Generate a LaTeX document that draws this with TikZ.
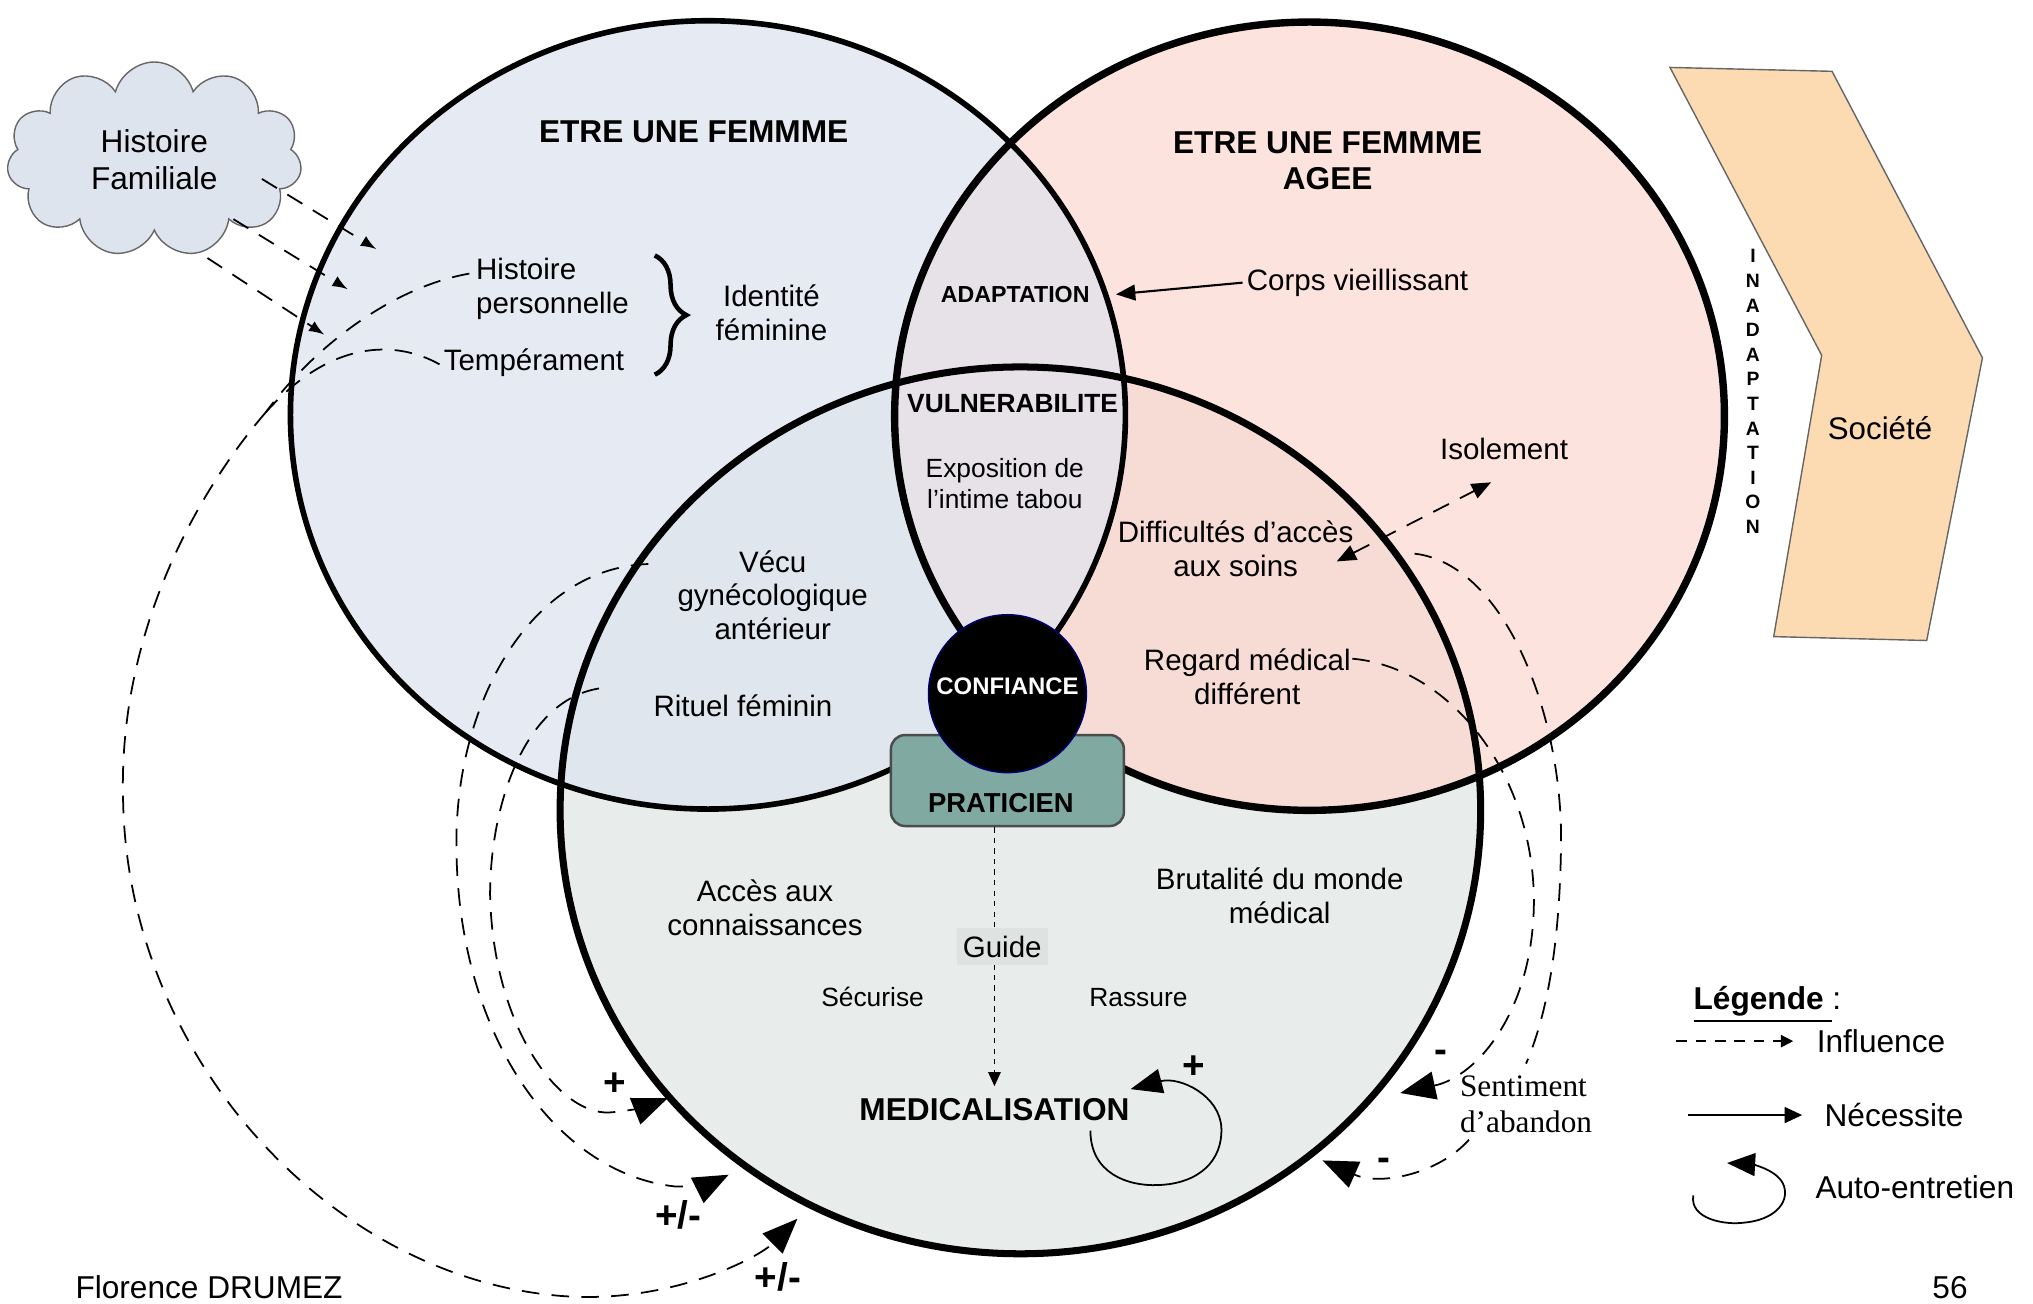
\documentclass[tikz,border=0pt]{standalone}
\usepackage{fontspec}
\setmainfont{Liberation Sans}
\newfontfamily\timesfont{Liberation Serif}
\usepackage{xcolor}
\usetikzlibrary{arrows}
\usetikzlibrary{arrows.meta}
\usetikzlibrary{shapes.symbols}
\usetikzlibrary{decorations.pathreplacing, math}
\definecolor{femcol}{HTML}{E6EBF3}
\definecolor{agecol}{HTML}{FDE3DE}
\definecolor{medcol}{HTML}{E8EDEB}
\definecolor{lenscol}{HTML}{E6E2E8}
\definecolor{femmedcol}{HTML}{DFE6EE}
\definecolor{agemedcol}{HTML}{F6DCD5}
\definecolor{nuagecol}{HTML}{DDE4EE}
\definecolor{pratcol}{HTML}{7FA9A1}
\definecolor{soccol}{HTML}{FCDBB3}
\definecolor{guidecol}{HTML}{DEE3E1}
\tikzset{
  txt/.style={font=\fontsize{8.4}{9.6}\selectfont, align=center, inner sep=1pt},
  petit/.style={font=\fontsize{7.5}{8.9}\selectfont, align=center, inner sep=1pt},
  titre/.style={font=\bfseries\fontsize{9}{10}\selectfont, align=center, inner sep=1pt},
  signe/.style={font=\bfseries\fontsize{11}{12}\selectfont, inner sep=0pt},
  legtxt/.style={font=\fontsize{9}{11}\selectfont, inner sep=1pt},
  infl/.style={line width=0.5pt, dash pattern=on 5pt off 3.5pt},
  gros/.style={-{Triangle[length=10pt,width=8pt]}},
}
\begin{document}
\begin{tikzpicture}[x=0.012966cm, y=-0.012966cm]
\tikzmath{
\femx=546; \femy=320; \femrx=322; \femry=304;
\agex=1010; \agey=321; \agerx=320; \agery=304;
\medx=787; \medy=625; \medrx=355; \medry=342;
}
\useasboundingbox (0,0) rectangle (1568,1005);

%circles
\fill[medcol] (\medx,\medy) ellipse [x radius=\medrx, y radius=\medry];
\fill[femcol] (\femx,\femy) ellipse [x radius=\femrx, y radius=\femry];
\fill[agecol] (\agex,\agey) ellipse [x radius=\agerx, y radius=\agery];
\begin{scope}
\clip (\medx,\medy) ellipse [x radius=\medrx, y radius=\medry];
\fill[femmedcol] (\femx,\femy) ellipse [x radius=\femrx, y radius=\femry];
\fill[agemedcol] (\agex,\agey) ellipse [x radius=\agerx, y radius=\agery];
\end{scope}
\begin{scope}
\clip (\femx,\femy) ellipse [x radius=\femrx, y radius=\femry];
\fill[lenscol] (\agex,\agey) ellipse [x radius=\agerx, y radius=\agery];
\end{scope}
\draw[line width=1.6pt] (\femx,\femy) ellipse [x radius=\femrx, y radius=\femry];
\draw[line width=2.1pt] (\agex,\agey) ellipse [x radius=\agerx, y radius=\agery];
\draw[line width=2pt] (\medx,\medy) ellipse [x radius=\medrx, y radius=\medry];

%societe
\draw[fill=soccol, draw=black!60, line width=0.4pt] (1288,52) -- (1413,55) -- (1529,276) -- (1486,494) -- (1368,491) -- (1405,274) -- cycle;
\node[font=\fontsize{8.9}{10}\selectfont] (societe) at (1450,330) {Société};
\node[font=\bfseries\fontsize{5.5}{7}\selectfont, align=center] (inadapt) at (1352,302) {I\\N\\A\\D\\A\\P\\T\\A\\T\\I\\O\\N};

%cloud
\node[cloud, cloud puffs=11, aspect=1.6, draw=black!60, line width=0.4pt, fill=nuagecol, minimum width=2.95cm, minimum height=1.95cm, font=\fontsize{9}{10.4}\selectfont, align=center] (histfam) at (119,123) {Histoire\\Familiale};

%praticien
\node[draw=black!70, line width=0.7pt, fill=pratcol, rounded corners=4pt, minimum width=2.33cm, minimum height=0.91cm] (prat) at (777,602) {};
\node[font=\bfseries\fontsize{7.8}{9}\selectfont] (pratlbl) at (772,619) {PRATICIEN};
\node[circle, fill=black, draw=blue!45!black, minimum size=1.58cm, inner sep=0pt, text=white, text height=5pt, text depth=4.4pt, font=\bfseries\fontsize{6.8}{8}\selectfont] (confiance) at (777,535) {CONFIANCE};

%texts
\node[titre] (femme) at (535,102) {ETRE UNE FEMMME};
\node[titre] (agee) at (1024,124) {ETRE UNE FEMMME\\AGEE};
\node[txt, align=left, anchor=west] (histpers) at (364,223) {Histoire\\personnelle};
\node[txt, anchor=west] (temper) at (339,280) {Tempérament};
\draw[line width=1.3pt, decorate, decoration={brace, amplitude=9pt}] (505,197) -- (505,289);
\node[txt] (identite) at (595,241) {Identité\\féminine};
\node[font=\bfseries\fontsize{6.6}{8}\selectfont] (adapt) at (783,227) {ADAPTATION};
\node[font=\bfseries\fontsize{7.5}{9}\selectfont] (vulner) at (781,311) {VULNERABILITE};
\node[txt] (corps) at (1047,218) {Corps vieillissant};
\node[txt] (isol) at (1160,346) {Isolement};
\node[txt] (diffic) at (953,423) {Difficultés d’accès\\aux soins};
\node[petit] (expo) at (775,373) {Exposition de\\l’intime tabou};
\node[txt] (vecu) at (596,459) {Vécu\\gynécologique\\antérieur};
\node[txt] (rituel) at (573,544) {Rituel féminin};
\node[txt] (regard) at (962,522) {Regard médical\\différent};
\node[txt] (acces) at (590,700) {Accès aux\\connaissances};
\node[txt] (brutal) at (987,691) {Brutalité du monde\\médical};
\node[petit] (securise) at (673,769) {Sécurise};
\node[petit] (rassure) at (878,769) {Rassure};
\node[font=\bfseries\fontsize{9}{10}\selectfont] (medic) at (767,856) {MEDICALISATION};
\node[font=\timesfont\fontsize{8.9}{10.3}\selectfont, align=left] (sentiment) at (1177,852) {Sentiment\\d’abandon};

%necessite
\draw[line width=0.6pt, -{Triangle[length=5.5pt,width=4.5pt]}] (corps.west) -- ([xshift=4]adapt.east);
\coordinate (isolpt) at (1150,372);
\coordinate (difpt) at (1031,433);
\draw[infl, {Triangle[length=5.5pt,width=4.5pt]}-{Triangle[length=5.5pt,width=4.5pt]}] (difpt) -- (isolpt);
\draw[line width=0.5pt, dash pattern=on 1.5pt off 1.5pt, -{Triangle[length=4pt,width=3.5pt]}] (prat.south -| medic.north) -- (medic.north);
\node[txt, fill=guidecol, minimum width=0.91cm, minimum height=0.376cm] (guide) at (773,730) {Guide};

%cloud arrows
\coordinate (hf1) at (202,138); \coordinate (cf1) at (290,192);
\coordinate (hf2) at (180,169); \coordinate (cf2) at (268,223);
\coordinate (hf3) at (160,199); \coordinate (cf3) at (250,258);
\draw[infl, -latex] (hf1) -- (cf1);
\draw[infl, -latex] (hf2) -- (cf2);
\draw[infl, -latex] (hf3) -- (cf3);

%influences left
\coordinate (h0) at (362,211);
\coordinate (t0) at (339,281);
\coordinate (merge) at (205,318);
\coordinate (bigtip) at (615,940);
\draw[infl] (h0) .. controls (300,222) and (240,270) .. (merge);
\draw[infl] (t0) .. controls (305,262) and (255,262) .. (merge);
\draw[infl, gros] (merge) .. controls (160,370) and (90,480) .. (95,620) .. controls (100,820) and (260,990) .. (440,1000) .. controls (520,1004) and (585,970) .. (bigtip);
\coordinate (v0) at (500,435);
\coordinate (vtip) at (562,906);
\draw[infl, gros] (v0) .. controls (410,438) and (352,540) .. (352,650) .. controls (352,800) and (430,905) .. (520,915) .. controls (535,916) and (550,912) .. (vtip);
\coordinate (r0) at (462,531);
\coordinate (rtip) at (515,847);
\draw[infl, gros] (r0) .. controls (405,540) and (378,620) .. (378,690) .. controls (380,790) and (430,860) .. (470,858) .. controls (485,857) and (500,853) .. (rtip);
\node[signe] (plus1) at (474,836) {+};
\node[signe] (pm1) at (523,937) {+/-};
\node[signe] (pm2) at (600,985) {+/-};

%influences right
\coordinate (g0) at (1043,508);
\coordinate (gtip) at (1080,843);
\draw[infl, gros] (g0) .. controls (1120,515) and (1185,600) .. (1183,700) .. controls (1181,780) and (1140,830) .. (gtip);
\coordinate (s0) at (1091,427);
\draw[infl] (s0) .. controls (1160,435) and (1205,550) .. (1204,650) .. controls (1203,740) and (1190,790) .. (sentiment.north);
\coordinate (a0) at (1133,879);
\coordinate (atip) at (1020,895);
\draw[infl, gros] (a0) .. controls (1110,905) and (1065,915) .. (atip);
\node[signe] (moins1) at (1111,815) {-};
\node[signe] (moins2) at (1067,898) {-};

%auto-entretien
\coordinate (lp0) at (841,872);
\coordinate (lptip) at (872,840);
\draw[line width=0.5pt, -{Triangle[length=9pt,width=7pt]}] (lp0) .. controls (841,905) and (870,915) .. (893,914) .. controls (925,913) and (943,895) .. (942,870) .. controls (941,845) and (910,830) .. (lptip);
\node[signe] (plus2) at (921,823) {+};

%legende
\node[legtxt, anchor=west] (legende) at (1303,775) {\underline{\textbf{Légende }}:};
\coordinate (li0) at (1293,803); \coordinate (li1) at (1383,803);
\draw[line width=0.5pt, dash pattern=on 3pt off 2.5pt, -{Triangle[length=3.5pt,width=3.5pt]}] (li0) -- (li1);
\node[legtxt, anchor=west] (influence) at (1398,803) {Influence};
\coordinate (ln0) at (1302,860); \coordinate (ln1) at (1390,860);
\draw[line width=0.6pt, -{Triangle[length=5pt,width=4.5pt]}] (ln0) -- (ln1);
\node[legtxt, anchor=west] (necessite) at (1404,860) {Nécessite};
\coordinate (la0) at (1306,922); \coordinate (la1) at (1332,897);
\draw[line width=0.5pt, -{Triangle[length=8pt,width=6.5pt]}] (la0) .. controls (1303,940) and (1330,945) .. (1345,943) .. controls (1368,941) and (1380,928) .. (1376,915) .. controls (1372,902) and (1350,898) .. (la1);
\node[legtxt, anchor=west] (auto) at (1397,916) {Auto-entretien};

%footer
\node[legtxt, anchor=west] (auteur) at (55,993) {Florence DRUMEZ};
\node[legtxt] (page) at (1504,993) {56};
\end{tikzpicture}
\end{document}
